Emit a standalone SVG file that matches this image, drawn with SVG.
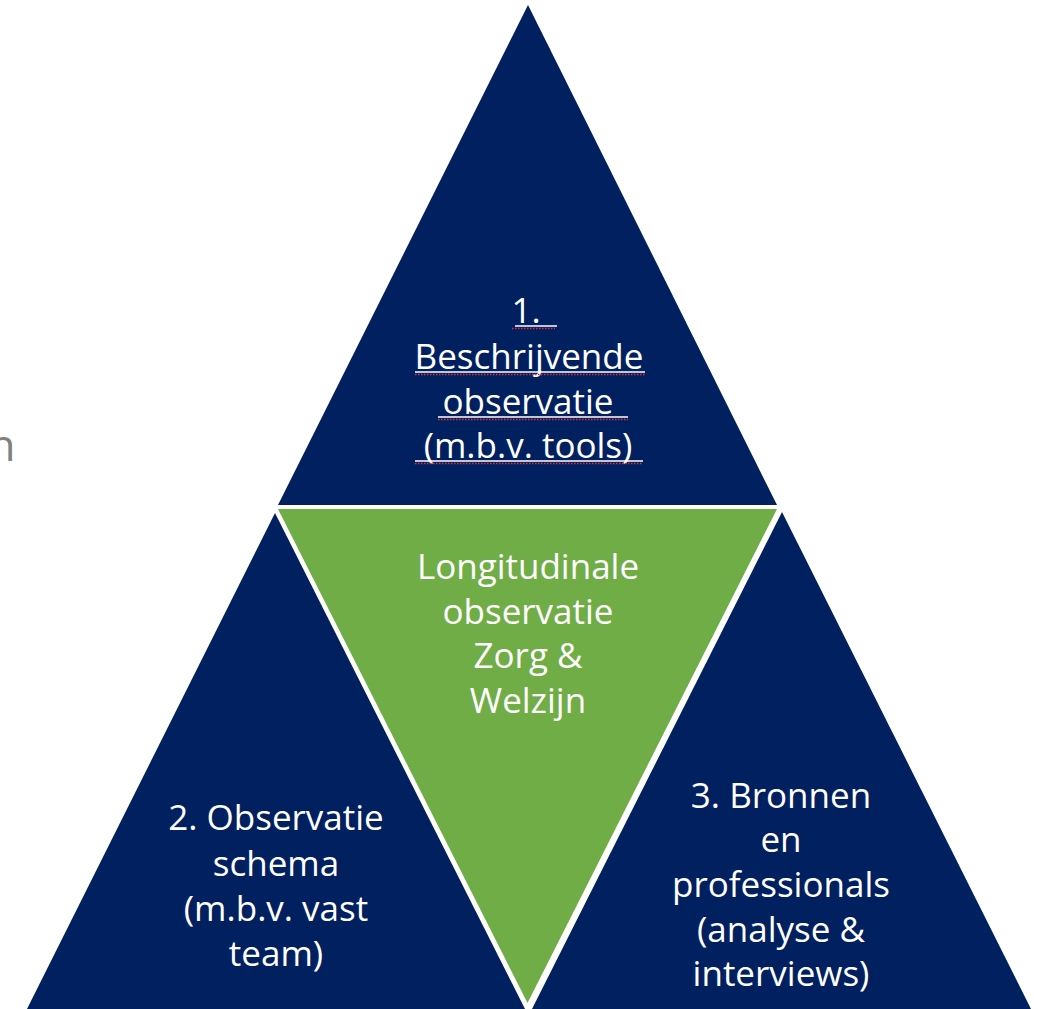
<svg xmlns="http://www.w3.org/2000/svg" width="1038" height="1009" viewBox="0 0 1038 1009">
<style>
.navy{fill:#002060}
.green{fill:#70AD47}
.t{font-family:"Open Sans","Noto Sans","Liberation Sans",sans-serif;font-size:35px;fill:#ffffff;text-anchor:middle}
.ul{stroke:#ffffff;stroke-width:1.6}
.sp{stroke:#e03030;stroke-width:1.4;stroke-dasharray:1.5 1.5}
</style>
<rect width="1038" height="1009" fill="#ffffff"/>
<text x="-11.5" y="461" font-family="'Open Sans','Noto Sans',sans-serif" font-size="44" fill="#808080">n</text>
<g id="connectors"/>
<g id="node-top">
<polygon class="navy" points="528,5 278,505 777,505"/>
<text class="t" x="526" y="323">1.</text>
<text class="t" x="529" y="369">Beschrijvende</text>
<text class="t" x="528" y="414">observatie</text>
<text class="t" x="528" y="458">(m.b.v. tools)</text>
<line class="ul" x1="515" y1="326" x2="557" y2="326"/>
<line class="sp" x1="512" y1="328.5" x2="555" y2="328.5"/>
<line class="ul" x1="415" y1="372" x2="645" y2="372"/>
<line class="sp" x1="415" y1="374.5" x2="645" y2="374.5"/>
<line class="ul" x1="438" y1="417" x2="628" y2="417"/>
<line class="sp" x1="438" y1="419.5" x2="628" y2="419.5"/>
<line class="ul" x1="415" y1="461" x2="643" y2="461"/>
<line class="sp" x1="415" y1="463.5" x2="643" y2="463.5"/>
</g>
<g id="node-center">
<polygon class="green" points="278,509 777,509 527.5,1003"/>
<text class="t" x="528" y="579">Longitudinale</text>
<text class="t" x="528" y="624">observatie</text>
<text class="t" x="528" y="668">Zorg &amp;</text>
<text class="t" x="528" y="713">Welzijn</text>
</g>
<g id="node-left">
<polygon class="navy" points="275,513 27,1009 525,1009"/>
<text class="t" x="276" y="830">2. Observatie</text>
<text class="t" x="276" y="876">schema</text>
<text class="t" x="276" y="921">(m.b.v. vast</text>
<text class="t" x="276" y="966">team)</text>
</g>
<g id="node-right">
<polygon class="navy" points="782,512 532,1009 1031,1009"/>
<text class="t" x="781" y="808">3. Bronnen</text>
<text class="t" x="781" y="852">en</text>
<text class="t" x="781" y="897">professionals</text>
<text class="t" x="781" y="942">(analyse &amp;</text>
<text class="t" x="781" y="986">interviews)</text>
</g>
</svg>
